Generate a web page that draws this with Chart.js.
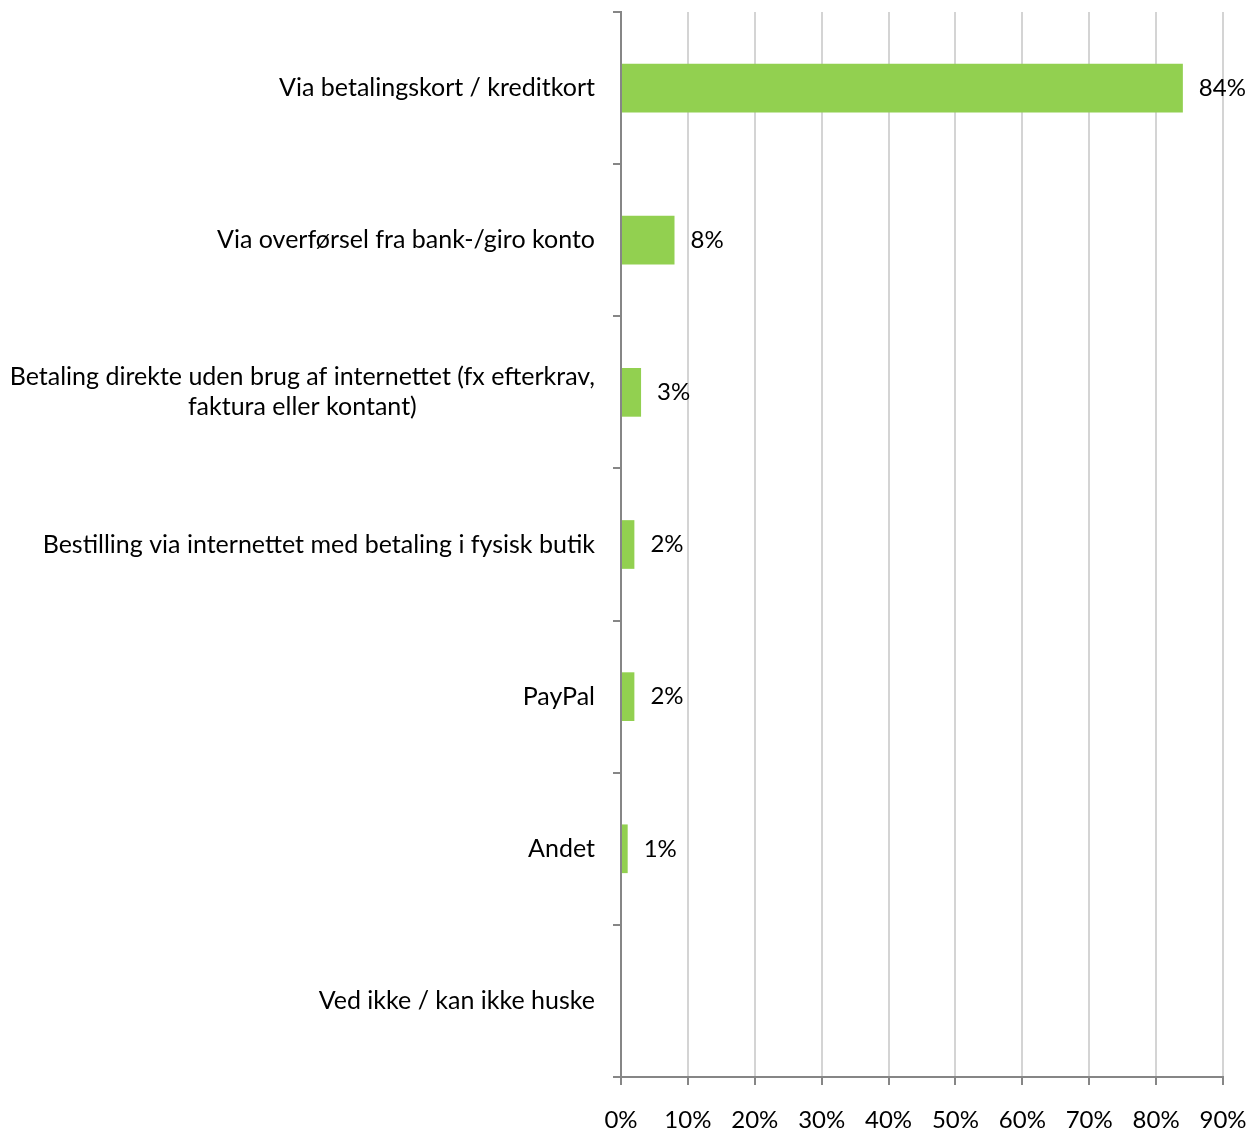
<!DOCTYPE html>
<html>
<head>
<meta charset="utf-8">
<script src="https://cdn.jsdelivr.net/npm/chart.js@4/dist/chart.umd.min.js"></script>
<style>
  body { margin: 0; background: #fff; }
  #wrap { width: 1258px; height: 1130px; }
</style>
</head>
<body>
<div id="wrap"><canvas id="chart" width="1258" height="1130"></canvas></div>
<script>
const categories = [
  ['Via betalingskort / kreditkort'],
  ['Via overførsel fra bank-/giro konto'],
  ['Betaling direkte uden brug af internettet (fx efterkrav,', 'faktura eller kontant)'],
  ['Bestilling via internettet med betaling i fysisk butik'],
  ['PayPal'],
  ['Andet'],
  ['Ved ikke / kan ikke huske']
]
const shares = [84, 8, 3, 2, 2, 1, null]
const axisMin = 0
const axisMax = 90
const axisStep = 10

const FONT_FAMILY = 'Lato, "Open Sans", sans-serif'
const LABEL_SIZE = 25
const NUM_SIZE = 24
const LINE_H = 30

// category names and value labels are painted by hand so the wrapped
// label can be centred line by line while the block stays right-aligned
const sideLabels = {
  id: 'sideLabels',
  afterDraw(chart) {
    const ctx = chart.ctx
    const yScale = chart.scales.y
    const left = chart.chartArea.left
    ctx.save()
    ctx.font = LABEL_SIZE + 'px ' + FONT_FAMILY
    ctx.fillStyle = '#000'
    ctx.textBaseline = 'middle'
    ctx.textAlign = 'center'
    categories.forEach((lines, i) => {
      const cy = yScale.getPixelForTick(i)
      const w = Math.max(...lines.map(l => ctx.measureText(l).width))
      const cx = left - 26 - w / 2
      lines.forEach((l, k) => {
        ctx.fillText(l, cx, cy + (k - (lines.length - 1) / 2) * LINE_H)
      })
    })

    ctx.font = NUM_SIZE + 'px ' + FONT_FAMILY
    ctx.textAlign = 'left'
    const meta = chart.getDatasetMeta(0)
    meta.data.forEach((bar, i) => {
      if (shares[i] == null) return
      ctx.fillText(shares[i] + '%', bar.x + 16, bar.y)
    })
    ctx.restore()
  }
}

const ctx = document.getElementById('chart').getContext('2d')
new Chart(ctx, {
  type: 'bar',
  data: {
    labels: categories.map(c => c.join(' ')),
    datasets: [{
      data: shares,
      backgroundColor: '#92D050',
      borderWidth: 0,
      barPercentage: 0.32,
      categoryPercentage: 1
    }]
  },
  options: {
    indexAxis: 'y',
    responsive: false,
    animation: false,
    layout: { padding: { top: 12, right: 35, left: 0, bottom: 0 } },
    plugins: {
      legend: { display: false },
      tooltip: { enabled: false }
    },
    scales: {
      y: {
        afterFit: s => { s.width = 621 },
        ticks: { display: false },
        grid: {
          offset: true,
          drawOnChartArea: false,
          drawTicks: true,
          tickLength: 8,
          tickColor: '#868686',
          lineWidth: 2
        },
        border: { color: '#868686', width: 2 }
      },
      x: {
        min: axisMin,
        max: axisMax,
        afterFit: s => {
          s.height = 53
          s.paddingLeft = 0
          s.paddingRight = 0
        },
        ticks: {
          stepSize: axisStep,
          padding: 21,
          color: '#000',
          font: { family: FONT_FAMILY, size: NUM_SIZE },
          callback: v => v + '%'
        },
        grid: {
          color: '#D4D4D4',
          lineWidth: 2,
          tickLength: 8,
          tickColor: '#868686'
        },
        border: { color: '#868686', width: 2 }
      }
    }
  },
  plugins: [sideLabels]
})
</script>
</body>
</html>
